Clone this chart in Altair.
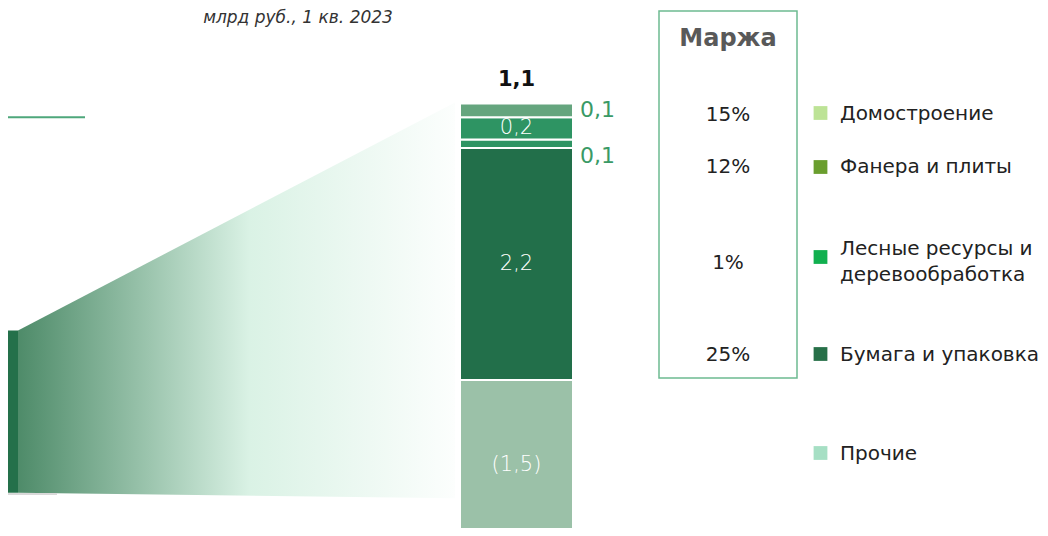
import altair as alt
import pandas as pd

# ---------------- data ----------------
segments = ["Домостроение", "Фанера и плиты", "Лесные ресурсы и деревообработка",
            "Бумага и упаковка", "Прочие"]
seg_values = [0.13, 0.21, 0.08, 2.2, -1.5]
seg_labels = ["0,1", "0,2", "0,1", "2,2", "(1,5)"]
total_label = "1,1"
margins = ["15%", "12%", "1%", "25%"]
legend_lines = ["Домостроение", "Фанера и плиты", "Лесные ресурсы и",
                "деревообработка", "Бумага и упаковка", "Прочие"]
prev_bar = [-1.07, 0.47]          # partially visible previous bar (bottom, top)
bridge_bottom = [-1.07, -1.12]    # connector bottom at left / right end
bridge_top = [0.47, 2.63]         # connector top at left / right end
subtitle = "млрд руб., 1 кв. 2023"
margin_title = "Маржа"

# ---------------- styles ----------------
bar_colors = ["#65a57e", "#2e9463", "#2e9463", "#226f4a", "#9bc1a8"]
legend_colors = ["#bde396", "#6a9e2e", "#11b04f", "#277048", "#a6dfc4"]
label_inside = [False, True, False, True, True]
label_dy = [0, 0, 12, 0, 6]
FONT = "DejaVu Sans"

W, H = 1032, 520
yscale = alt.Scale(domain=[-1.403, 3.526], nice=False, zero=False)
xscale = alt.Scale(domain=[0, W], nice=False, zero=False)
pscale = alt.Scale(domain=[0, H], range=[0, H], nice=False, zero=False)

BAR_X0, BAR_X1 = 452, 565

# stack: positives from zero upward (bottom of list first), negatives downward
rows = []
pos, neg = 0.0, 0.0
for i in reversed(range(len(segments))):
    v = seg_values[i]
    if v >= 0:
        y0, y1 = pos, pos + v
        pos += v
    else:
        y0, y1 = neg, neg + v
        neg += v
    rows.append(dict(seg=segments[i], y0=y0, y1=y1, mid=(y0 + y1) / 2,
                     label=seg_labels[i], color=bar_colors[i],
                     inside=label_inside[i], dy=label_dy[i]))
seg_df = pd.DataFrame(rows)
top_value = pos


def XD(v):
    return alt.datum(v, type="quantitative", scale=xscale, axis=None)


X = lambda v: alt.X(v, type="quantitative", scale=xscale, axis=None)
Y = lambda v: alt.Y(v, type="quantitative", scale=yscale, axis=None)
PY = lambda v: alt.Y(v, type="quantitative", scale=pscale, axis=None)

bars = alt.Chart(seg_df).mark_rect(stroke="white", strokeWidth=2).encode(
    x=XD(BAR_X0), x2=alt.datum(BAR_X1),
    y=Y("y0"), y2="y1",
    color=alt.Color("color:N", scale=None),
)

seg_lbl = []
for r in rows:
    if r["inside"]:
        seg_lbl.append(
            alt.Chart(pd.DataFrame([r])).mark_text(
                font=FONT, fontSize=21, fontWeight=300, color="white",
                baseline="middle", align="center", dy=r["dy"]
            ).encode(x=XD((BAR_X0 + BAR_X1) / 2), y=Y("mid"), text="label:N"))
    else:
        seg_lbl.append(
            alt.Chart(pd.DataFrame([r])).mark_text(
                font=FONT, fontSize=22, fontWeight="normal", color="#3a9a66",
                baseline="middle", align="left", dy=r["dy"]
            ).encode(x=XD(BAR_X1 + 7), y=Y("mid"), text="label:N"))

total = alt.Chart(pd.DataFrame({"v": [top_value], "t": [total_label]})).mark_text(
    font=FONT, fontSize=21, fontWeight="bold", color="#111", baseline="bottom", dy=-14
).encode(x=XD((BAR_X0 + BAR_X1) / 2), y=Y("v"), text="t:N")

# previous bar and gradient connector
prev = alt.Chart(pd.DataFrame({"a": [prev_bar[0]], "b": [prev_bar[1]]})).mark_rect(
    color="#24704a").encode(x=XD(0), x2=alt.datum(10), y=Y("a"), y2="b")

base_line = alt.Chart(pd.DataFrame({"a": [prev_bar[0] - 0.01]})).mark_rule(
    color="#d9d9d9", strokeWidth=2).encode(x=XD(0), x2=alt.datum(49), y=Y("a"))

green_line = alt.Chart(pd.DataFrame({"a": [2.49]})).mark_rule(
    color="#4ea77b", strokeWidth=2).encode(x=XD(0), x2=alt.datum(77), y=Y("a"))

bridge_df = pd.DataFrame({"x": [10, 447], "top": bridge_top, "bot": bridge_bottom})
bridge = alt.Chart(bridge_df).mark_area(
    interpolate="linear",
    color=alt.Gradient(
        gradient="linear",
        stops=[alt.GradientStop(color="#4e8b69", offset=0),
               alt.GradientStop(color="#9cc5ae", offset=0.3),
               alt.GradientStop(color="#daf2e5", offset=0.53),
               alt.GradientStop(color="#fcfefd", offset=1)],
        x1=0, x2=1, y1=0, y2=0)
).encode(x=X("x"), y=Y("top"), y2="bot")

# ---------- pixel-positioned annotations (margin box, legend, subtitle) ----------
margin_rows_y = [107, 159, 255, 347]
legend_sq_y = [105, 159, 249, 346, 445]
legend_line_y = [106, 159, 241, 267, 347, 446]

sub = alt.Chart(pd.DataFrame({"y": [10], "t": [subtitle]})).mark_text(
    font=FONT, fontSize=17, fontStyle="italic", color="#333", baseline="middle"
).encode(x=XD(290), y=PY("y"), text="t:N")

box = alt.Chart(pd.DataFrame({"a": [3], "b": [370]})).mark_rect(
    fill="white", fillOpacity=0, stroke="#6dbb91", strokeWidth=1.5).encode(
    x=XD(651), x2=alt.datum(789), y=PY("a"), y2="b")

mtitle = alt.Chart(pd.DataFrame({"y": [31], "t": [margin_title]})).mark_text(
    font=FONT, fontSize=24, fontWeight="bold", color="#595959", baseline="middle"
).encode(x=XD(720), y=PY("y"), text="t:N")

mvals = alt.Chart(pd.DataFrame({"y": margin_rows_y, "t": margins})).mark_text(
    font=FONT, fontSize=20, fontWeight="normal", color="#222", baseline="middle"
).encode(x=XD(720), y=PY("y"), text="t:N")

sq = alt.Chart(pd.DataFrame({"y": legend_sq_y, "c": legend_colors})).mark_square(
    size=190, opacity=1, filled=True).encode(
    x=XD(812.5), y=PY("y"), color=alt.Color("c:N", scale=None))

ltext = alt.Chart(pd.DataFrame({"y": legend_line_y, "t": legend_lines})).mark_text(
    font=FONT, fontSize=20, fontWeight="normal", color="#222", baseline="middle", align="left"
).encode(x=XD(832), y=PY("y"), text="t:N")

chart = alt.layer(
    bridge, prev, base_line, green_line, bars, *seg_lbl, total,
    sub, box, mtitle, mvals, sq, ltext
).resolve_scale(y="independent").properties(
    width=W, height=H, padding=0, autosize=alt.AutoSizeParams(type="none")
).configure_view(stroke=None)

chart.save("out.html", embed_options={"renderer": "svg", "actions": False})
